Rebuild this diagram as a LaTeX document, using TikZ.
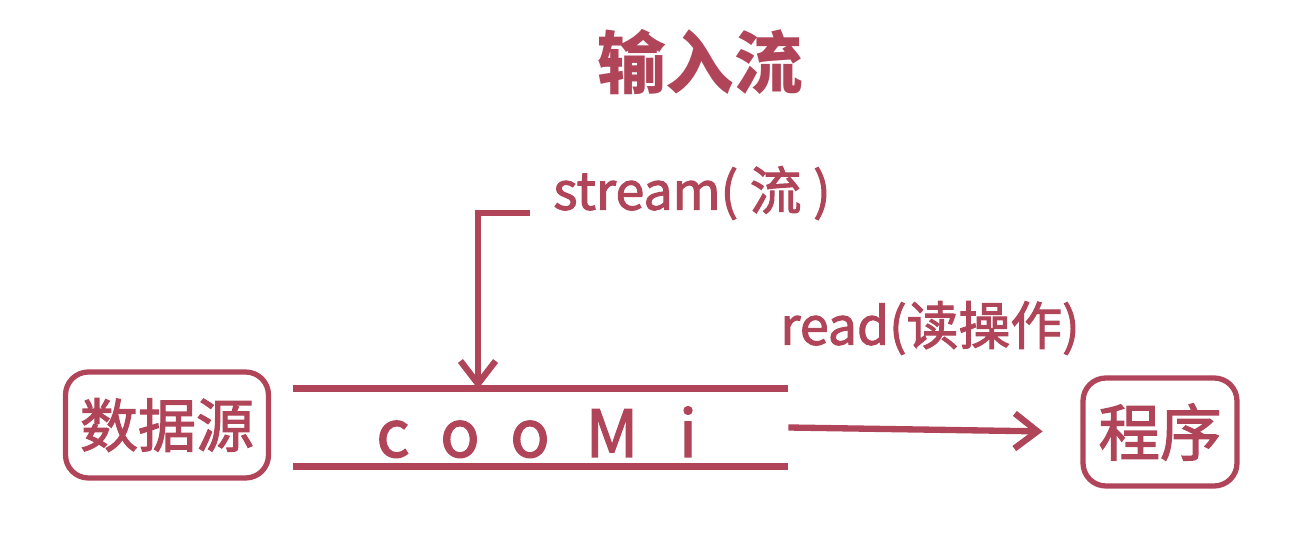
\documentclass[tikz,border=0pt]{standalone}
\usepackage{fontspec}
\setmainfont{Noto Sans CJK SC}[FakeBold=2]
\newfontfamily\headfont{Noto Sans CJK SC}
\usetikzlibrary{arrows.meta, positioning, calc}
\definecolor{rose}{HTML}{B04458}
\tikzset{
x=0.02cm, y=-0.02cm, % one unit is one pixel of the sketch, y grows downwards
every node/.style={text=rose}, % all text is in the same red
endbox/.style={draw=rose, line width=3pt, rounded corners=13pt, inner sep=0pt, font=\fontsize{33}{33}\selectfont}, % source and program boxes
label/.style={font=\fontsize{29.5}{29.5}\selectfont}, % the small captions
flow/.style={rose, line width=3.6pt, -{Straight Barb[length=13pt, width=20pt, line width=3.6pt]}}, % arrows
}

\begin{document}
\begin{tikzpicture}
    \useasboundingbox (0,0) rectangle (1298,536);
    \node[font=\fontsize{39}{39}\headfont\bfseries] (title) at (700,62) {输入流};
    \node[endbox, minimum width=4.06cm, minimum height=2.12cm] (src) at (167,425) {数据源};
    \node[endbox, minimum width=3.08cm, minimum height=2.16cm, font=\fontsize{35}{35}\selectfont] (prog) at (1160,432) {程序};
    \node[minimum width=9.9cm, minimum height=1.54cm, inner sep=0pt] (pipe) at (540.5,427.5) {};
    \foreach \x/\ch in {393/c,460/o,530/o,612/M,688/i}
      \node[font=\fontsize{37}{37}\selectfont, anchor=base] (byte\x) at (\x,457) {\ch};
    \draw[rose, line width=3.6pt] (pipe.north west) -- (pipe.north east)
    (pipe.south west) -- (pipe.south east);
    \node[label] (streamlbl) at (692,193) {stream( 流 )};
    \node[label] (readlbl) at (930,328) {read(读操作)};
    \coordinate (streamend) at (530,213);
    \coordinate (entry) at (478,389);
    \draw[flow] (streamend) -| (entry);
    \draw[flow, shorten >=21.5pt] (pipe.east) -- (prog.west);
  \end{tikzpicture}
\end{document}
